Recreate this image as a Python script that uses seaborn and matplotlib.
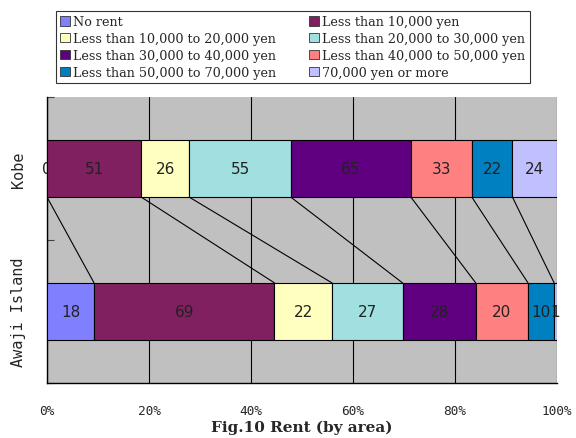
import numpy as np
import pandas as pd
import seaborn as sns
import matplotlib.pyplot as plt
from matplotlib.patches import Patch
from matplotlib.ticker import MultipleLocator, FixedLocator

# data (number of answers)
areas = ["Kobe", "Awaji Island"]
series = ["No rent", "Less than 10,000 yen", "Less than 10,000 to 20,000 yen",
          "Less than 20,000 to 30,000 yen", "Less than 30,000 to 40,000 yen",
          "Less than 40,000 to 50,000 yen", "Less than 50,000 to 70,000 yen",
          "70,000 yen or more"]
kobe = [0, 51, 26, 55, 65, 33, 22, 24]
awaji = [18, 69, 22, 27, 28, 20, 10, 1]
colors = ["#8080FF", "#802060", "#FFFFC0", "#A0E0E0",
          "#600080", "#FF8080", "#0080C0", "#C0C0FF"]

counts = np.array([kobe, awaji], dtype=float)
pct = counts / counts.sum(axis=1, keepdims=True) * 100
start = np.cumsum(pct, axis=1) - pct

sns.set_theme(style="white")
fig = plt.figure(figsize=(5.76, 4.39), dpi=100)
ax = fig.add_axes([0.0816, 0.1253, 0.885, 0.6515])
ax.set_facecolor("#C0C0C0")

for j, name in enumerate(series):
    df = pd.DataFrame({"area": areas, "pct": pct[:, j], "start": start[:, j]})
    sns.barplot(data=df, x="pct", y="area", left=df["start"], color=colors[j],
                saturation=1, width=0.4, edgecolor="black", linewidth=0.8,
                errorbar=None, ax=ax, zorder=3)
    ax.bar_label(ax.containers[-1], labels=[str(int(v)) for v in counts[:, j]],
                 label_type="center", fontsize=11, color="#222222",
                 family="DejaVu Sans")

# series lines between the two bars
ends = np.cumsum(pct, axis=1)
for j in range(len(series) - 1):
    ax.plot([ends[0, j], ends[1, j]], [0.2, 0.8], color="black", lw=0.8, zorder=2)

ax.set_xlim(0, 100)
ax.set_ylim(1.5, -0.5)
ax.xaxis.set_major_locator(MultipleLocator(20))
ax.set_xticklabels([f"{int(t)}%" for t in ax.get_xticks()], family="DejaVu Sans Mono",
                   fontsize=9.2)
ax.grid(axis="x", color="black", lw=0.8, zorder=1)
ax.set_axisbelow(True)
ax.tick_params(axis="x", length=0, pad=15)
ax.tick_params(axis="y", length=0, pad=15)
ax.yaxis.set_minor_locator(FixedLocator([-0.5, 0.5, 1.5]))
ax.tick_params(axis="y", which="minor", direction="in", length=5, width=0.8,
               color="#404040", left=True)
for lab in ax.get_yticklabels():
    lab.set_rotation(90)
    lab.set_va("center")
    lab.set_family("DejaVu Sans Mono")
    lab.set_fontsize(11)
ax.set_ylabel("")
ax.set_xlabel("Fig.10 Rent (by area)", family="DejaVu Serif",
              fontweight="bold", fontsize=11, labelpad=2)
for side in ["top", "right"]:
    ax.spines[side].set_visible(False)
for side in ["left", "bottom"]:
    ax.spines[side].set_color("black")
    ax.spines[side].set_linewidth(1)

handles = [Patch(facecolor=c, edgecolor="#333333", lw=0.6) for c in colors]
order = [0, 2, 4, 6, 1, 3, 5, 7]
leg = fig.legend([handles[i] for i in order], [series[i] for i in order],
                 ncol=2, loc="upper left", bbox_to_anchor=(0.097, 0.973),
                 frameon=True, fancybox=False, edgecolor="black",
                 prop={"family": "DejaVu Serif", "size": 9.2},
                 handlelength=0.75, handleheight=0.75, handletextpad=0.25,
                 columnspacing=2.6, labelspacing=0.3, borderpad=0.35,
                 borderaxespad=0)
leg.get_frame().set_linewidth(0.8)

fig.savefig("out.png", dpi=100)
